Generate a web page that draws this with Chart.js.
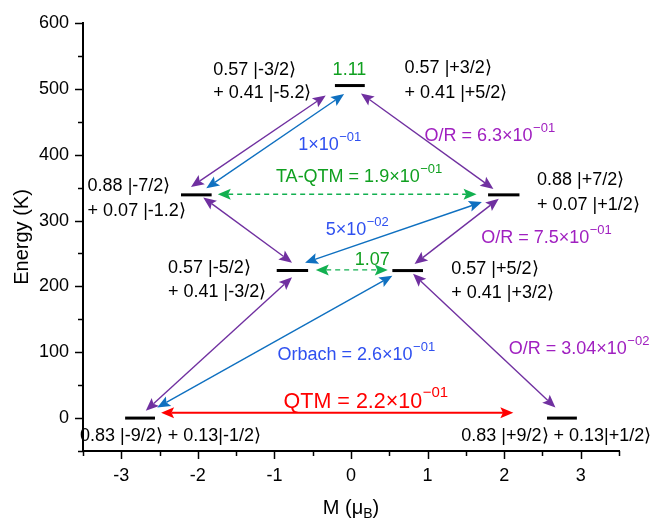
<!DOCTYPE html>
<html><head><meta charset="utf-8">
<script src="https://cdn.jsdelivr.net/npm/chart.js@4.4.0/dist/chart.umd.min.js"></script>
<style>html,body{margin:0;padding:0;background:#fff;}canvas{display:block;}</style>
</head><body>
<canvas id="c" width="653" height="520"></canvas>
<script>
const FONT = '"Liberation Sans", Arial, sans-serif';

// ---- data ----
const xTickLabels = [-3, -2, -1, 0, 1, 2, 3];
const yTickLabels = [0, 100, 200, 300, 400, 500, 600];

// energy levels (M range and energy in K)
const levelX0 = [-2.95, 2.56, -2.22, 1.79, -0.97, 0.54, -0.21];
const levelX1 = [-2.56, 2.95, -1.82, 2.20, -0.56, 0.94, 0.18];
const levelE  = [0, 0, 339, 339, 224, 224, 505];

// transitions (double-headed arrows)
const arrowKind = ['OR', 'Orbach', 'OR', 'TA', 'OR', 'Orbach', 'OR', 'TA', 'OR', 'Orbach', 'OR', 'QTM'];
const arrowX1 = [-0.33, -0.09, 0.13, -1.74, -1.93, 1.71, 1.93, -0.46, -0.77, -2.53, 0.81, -2.48];
const arrowY1 = [490, 492, 493, 340, 335, 328, 333, 225, 214, 16, 219, 8];
const arrowX2 = [-2.09, -1.89, 1.86, 1.64, -0.77, -0.60, 0.83, 0.48, -2.68, 0.54, 2.67, 2.12];
const arrowY2 = [351, 349, 348, 340, 236, 236, 234, 225, 11, 216, 16, 8];

// text annotations
const labelText = [
  '0.57 |-3/2\u27E9', '+ 0.41 |-5.2\u27E9', '1.11', '0.57 |+3/2\u27E9', '+ 0.41 |+5/2\u27E9',
  '1\u00D710^\u221201', 'O/R = 6.3\u00D710^\u221201',
  '0.88 |-7/2\u27E9', '+ 0.07 |-1.2\u27E9', 'TA-QTM = 1.9\u00D710^\u221201',
  '0.88 |+7/2\u27E9', '+ 0.07 |+1/2\u27E9', '5\u00D710^\u221202', 'O/R = 7.5\u00D710^\u221201',
  '0.57 |-5/2\u27E9', '+ 0.41 |-3/2\u27E9', '1.07', '0.57 |+5/2\u27E9', '+ 0.41 |+3/2\u27E9',
  'Orbach = 2.6\u00D710^\u221201', 'O/R = 3.04\u00D710^\u221202', 'QTM = 2.2\u00D710^\u221201',
  '0.83 |-9/2\u27E9 + 0.13|-1/2\u27E9', '0.83 |+9/2\u27E9 + 0.13|+1/2\u27E9'
];
const labelKind = [
  'state', 'state', 'TA', 'state', 'state',
  'Orbach', 'OR',
  'state', 'state', 'TA',
  'state', 'state', 'Orbach', 'OR',
  'state', 'state', 'TA', 'state', 'state',
  'Orbach', 'OR', 'QTM',
  'state', 'state'
];
const labelX = [-1.80, -1.80, -0.24, 0.70, 0.70,
  -0.69, 0.96,
  -3.44, -3.44, -0.98,
  2.43, 2.43, -0.33, 1.70,
  -2.39, -2.39, 0.05, 1.31, 1.31,
  -0.96, 2.06, -0.88,
  -3.54, 1.44];
const labelY = [529, 493, 528, 532, 494,
  414, 429,
  352, 315, 366,
  362, 323, 285, 274,
  228, 192, 240, 226, 190,
  96, 105, 25,
  -27, -27];

// ---- styles ----
const arrowStyle = {
  OR:     {color: '#7030A0', width: 1.4, dash: []},
  Orbach: {color: '#0F70C0', width: 1.4, dash: []},
  TA:     {color: '#12B050', width: 1.4, dash: [5, 4]},
  QTM:    {color: '#FF0000', width: 2, dash: []}
};
const textStyle = {
  state:  {color: '#000000', size: 18},
  OR:     {color: '#A020C0', size: 18},
  Orbach: {color: '#2F50F0', size: 18},
  TA:     {color: '#10A020', size: 18},
  QTM:    {color: '#FF0000', size: 21.5}
};

const datasets = levelE.map((e, i) => ({
  data: [{x: levelX0[i], y: e}, {x: levelX1[i], y: e}],
  showLine: true, borderColor: '#000', borderWidth: 3, pointRadius: 0, fill: false
}));

function head(ctx, x, y, ang, L, W) {
  const c = Math.cos(ang), s = Math.sin(ang);
  ctx.beginPath();
  ctx.moveTo(x, y);
  ctx.lineTo(x - L * c + W * s, y - L * s - W * c);
  ctx.lineTo(x - L * c * 0.8, y - L * s * 0.8);
  ctx.lineTo(x - L * c - W * s, y - L * s + W * c);
  ctx.closePath();
  ctx.fill();
}
function drawArrow(ctx, x1, y1, x2, y2, st) {
  const ang = Math.atan2(y2 - y1, x2 - x1);
  const L = 13, W = 5.5;
  const c = Math.cos(ang), s = Math.sin(ang);
  ctx.strokeStyle = st.color; ctx.fillStyle = st.color;
  ctx.lineWidth = st.width; ctx.setLineDash(st.dash);
  ctx.beginPath();
  ctx.moveTo(x1 + c * L * 0.8, y1 + s * L * 0.8);
  ctx.lineTo(x2 - c * L * 0.8, y2 - s * L * 0.8);
  ctx.stroke();
  ctx.setLineDash([]);
  head(ctx, x2, y2, ang, L, W);
  head(ctx, x1, y1, ang + Math.PI, L, W);
}
function drawRich(ctx, text, px, py, size, color) {
  const parts = text.split('^');
  ctx.fillStyle = color; ctx.textAlign = 'left'; ctx.textBaseline = 'middle';
  ctx.font = size + 'px ' + FONT;
  ctx.fillText(parts[0], px, py);
  if (parts[1]) {
    const w = ctx.measureText(parts[0]).width;
    ctx.font = Math.round(size * 0.72) + 'px ' + FONT;
    ctx.fillText(parts[1], px + w + 0.5, py - size * 0.42);
  }
}

const diagramPlugin = {
  id: 'diagram',
  afterDatasetsDraw(chart) {
    const ctx = chart.ctx, xs = chart.scales.x, ys = chart.scales.y, ca = chart.chartArea;
    ctx.save();
    // tick marks
    ctx.strokeStyle = '#000'; ctx.lineWidth = 1.5;
    xs.ticks.forEach(t => {
      const px = Math.round(xs.getPixelForValue(t.value)) + 0.5;
      const major = xTickLabels.includes(t.value);
      ctx.beginPath(); ctx.moveTo(px, ca.bottom); ctx.lineTo(px, ca.bottom + (major ? 8 : 5)); ctx.stroke();
    });
    ys.ticks.forEach(t => {
      const py = Math.round(ys.getPixelForValue(t.value)) + 0.5;
      const major = yTickLabels.includes(t.value);
      ctx.beginPath(); ctx.moveTo(ca.left, py); ctx.lineTo(ca.left - (major ? 8 : 5), py); ctx.stroke();
    });
    // arrows
    arrowKind.forEach((k, i) => {
      drawArrow(ctx, xs.getPixelForValue(arrowX1[i]), ys.getPixelForValue(arrowY1[i]),
        xs.getPixelForValue(arrowX2[i]), ys.getPixelForValue(arrowY2[i]), arrowStyle[k]);
    });
    // labels
    labelText.forEach((t, i) => {
      const st = textStyle[labelKind[i]];
      drawRich(ctx, t, xs.getPixelForValue(labelX[i]), ys.getPixelForValue(labelY[i]), st.size, st.color);
    });
    // axis titles
    ctx.fillStyle = '#000'; ctx.textBaseline = 'middle';
    ctx.font = '20px ' + FONT;
    const a = 'M (\u03BC', b = 'B', c = ')';
    const wa = ctx.measureText(a).width, wc = ctx.measureText(c).width;
    ctx.font = '14px ' + FONT;
    const wb = ctx.measureText(b).width;
    const cx = (ca.left + ca.right) / 2;
    let sx = cx - (wa + wb + wc) / 2;
    const ty = 508;
    ctx.textAlign = 'left';
    ctx.font = '20px ' + FONT; ctx.fillText(a, sx, ty);
    ctx.font = '14px ' + FONT; ctx.fillText(b, sx + wa, ty + 6);
    ctx.font = '20px ' + FONT; ctx.fillText(c, sx + wa + wb, ty);
    ctx.save();
    ctx.translate(22, (ca.top + ca.bottom) / 2);
    ctx.rotate(-Math.PI / 2);
    ctx.textAlign = 'center';
    ctx.fillText('Energy (K)', 0, 0);
    ctx.restore();
    ctx.restore();
  }
};

new Chart(document.getElementById('c'), {
  type: 'scatter',
  data: {datasets},
  options: {
    responsive: false, animation: false, devicePixelRatio: 1,
    layout: {padding: {left: 0, right: 34, top: 23, bottom: 0}},
    plugins: {legend: {display: false}, tooltip: {enabled: false}},
    scales: {
      x: {
        type: 'linear', min: -3.5, max: 3.5,
        afterFit: s => { s.height = 69; },
        grid: {drawOnChartArea: false, tickLength: 8, tickColor: 'rgba(0,0,0,0)'},
        border: {display: true, color: '#000', width: 2},
        ticks: {stepSize: 0.5, autoSkip: false, maxRotation: 0, padding: 6, color: '#000',
          font: {size: 18, family: FONT},
          callback: v => xTickLabels.includes(v) ? String(v) : ''}
      },
      y: {
        type: 'linear', min: -50, max: 600,
        afterFit: s => { s.width = 83; },
        grid: {drawOnChartArea: false, tickLength: 8, tickColor: 'rgba(0,0,0,0)'},
        border: {display: true, color: '#000', width: 2},
        ticks: {stepSize: 50, autoSkip: false, padding: 6, color: '#000',
          font: {size: 18, family: FONT},
          callback: v => yTickLabels.includes(v) ? String(v) : ''}
      }
    }
  },
  plugins: [diagramPlugin]
});
</script>
</body></html>
